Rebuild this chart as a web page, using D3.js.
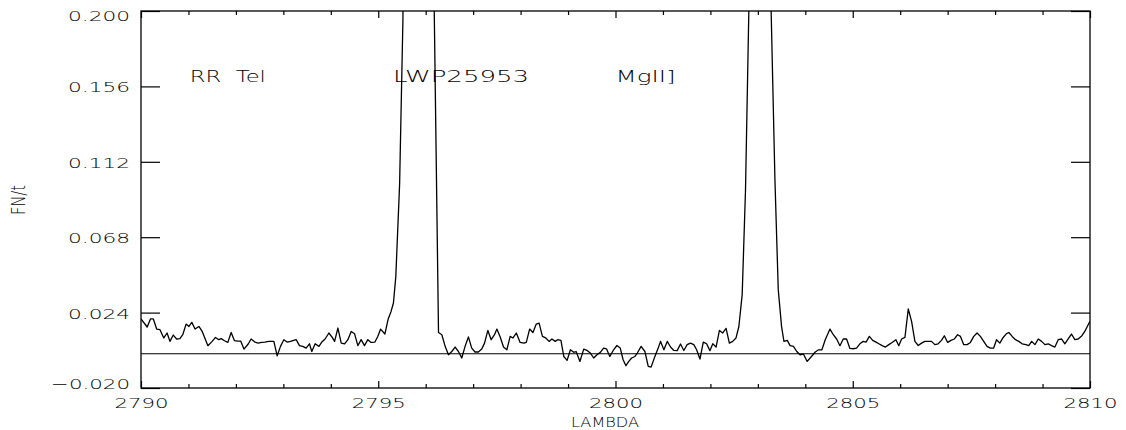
<!DOCTYPE html>
<html lang="en">
<head>
  <meta charset="UTF-8">
  <title>RR Tel LWP25953 MgII]</title>
  <script src="https://cdn.jsdelivr.net/npm/d3@7"></script>
  <style>
    body {
      margin: 0;
      padding: 0;
      background: #fff;
    }
    svg text {
      font-family: 'DejaVu Sans', sans-serif;
      font-weight: 300;
      fill: #000;
    }
    svg text.note {
      white-space: pre;
    }
    .axis path.domain {
      display: none;
    }
    .axis line {
      stroke: #000;
      stroke-width: 1.2;
    }
  </style>
</head>
<body>
  <svg id="chart" width="1126" height="430"></svg>

  <script>
    // spectrum (wavelength in A, flux FN/t)
    var lambda = [
      2790.00, 2790.13, 2790.20, 2790.26, 2790.33, 2790.40, 2790.48, 2790.55, 2790.61, 2790.68,
      2790.75, 2790.82, 2790.88, 2790.95, 2791.01, 2791.07, 2791.14, 2791.22, 2791.29, 2791.41,
      2791.50, 2791.57, 2791.64, 2791.69, 2791.76, 2791.83, 2791.90, 2791.97, 2792.04, 2792.10,
      2792.17, 2792.26, 2792.32, 2792.40, 2792.47, 2792.54, 2792.61, 2792.69, 2792.80, 2792.87,
      2792.94, 2793.01, 2793.08, 2793.15, 2793.27, 2793.34, 2793.41, 2793.48, 2793.55, 2793.60,
      2793.67, 2793.75, 2793.81, 2793.88, 2793.96, 2794.03, 2794.08, 2794.15, 2794.22, 2794.29,
      2794.36, 2794.43, 2794.50, 2794.57, 2794.64, 2794.71, 2794.78, 2794.85, 2794.93, 2794.99,
      2795.05, 2795.14, 2795.21, 2795.27, 2795.32, 2795.37, 2795.45, 2795.52, 2795.59, 2795.66,
      2795.73, 2795.81, 2795.88, 2795.95, 2796.02, 2796.10, 2796.18, 2796.27, 2796.34, 2796.41,
      2796.48, 2796.55, 2796.62, 2796.69, 2796.76, 2796.83, 2796.90, 2796.97, 2797.04, 2797.11,
      2797.18, 2797.24, 2797.31, 2797.38, 2797.45, 2797.50, 2797.57, 2797.64, 2797.71, 2797.78,
      2797.84, 2797.91, 2797.99, 2798.07, 2798.12, 2798.19, 2798.26, 2798.33, 2798.39, 2798.46,
      2798.53, 2798.60, 2798.66, 2798.73, 2798.78, 2798.85, 2798.91, 2798.98, 2799.05, 2799.12,
      2799.17, 2799.25, 2799.33, 2799.40, 2799.47, 2799.54, 2799.61, 2799.68, 2799.75, 2799.81,
      2799.88, 2799.96, 2800.03, 2800.10, 2800.16, 2800.22, 2800.28, 2800.34, 2800.41, 2800.46,
      2800.54, 2800.62, 2800.69, 2800.75, 2800.83, 2800.90, 2800.95, 2801.02, 2801.09, 2801.16,
      2801.23, 2801.30, 2801.37, 2801.44, 2801.51, 2801.58, 2801.65, 2801.71, 2801.78, 2801.85,
      2801.92, 2801.99, 2802.05, 2802.12, 2802.19, 2802.26, 2802.33, 2802.40, 2802.47, 2802.54,
      2802.60, 2802.67, 2802.74, 2802.81, 2802.88, 2802.95, 2803.02, 2803.09, 2803.16, 2803.22,
      2803.28, 2803.36, 2803.43, 2803.50, 2803.55, 2803.62, 2803.68, 2803.75, 2803.82, 2803.89,
      2803.96, 2804.04, 2804.13, 2804.21, 2804.28, 2804.35, 2804.42, 2804.52, 2804.59, 2804.66,
      2804.73, 2804.80, 2804.87, 2804.94, 2805.01, 2805.08, 2805.15, 2805.22, 2805.28, 2805.35,
      2805.42, 2805.50, 2805.55, 2805.62, 2805.69, 2805.76, 2805.83, 2805.91, 2805.97, 2806.03,
      2806.10, 2806.17, 2806.24, 2806.31, 2806.38, 2806.45, 2806.52, 2806.59, 2806.66, 2806.73,
      2806.80, 2806.87, 2806.93, 2807.00, 2807.07, 2807.14, 2807.21, 2807.27, 2807.34, 2807.41,
      2807.48, 2807.55, 2807.62, 2807.69, 2807.76, 2807.83, 2807.90, 2807.97, 2808.03, 2808.10,
      2808.17, 2808.24, 2808.29, 2808.36, 2808.43, 2808.50, 2808.57, 2808.65, 2808.71, 2808.77,
      2808.84, 2808.91, 2808.98, 2809.05, 2809.12, 2809.19, 2809.26, 2809.33, 2809.40, 2809.47,
      2809.54, 2809.61, 2809.68, 2809.75, 2809.83, 2809.89, 2809.98, 2810.00
    ];

    var flux = [
      0.0203, 0.0156, 0.0203, 0.0203, 0.0144, 0.0140, 0.0092, 0.0121, 0.0072, 0.0109,
      0.0086, 0.0088, 0.0111, 0.0173, 0.0159, 0.0183, 0.0144, 0.0159, 0.0130, 0.0047,
      0.0072, 0.0095, 0.0082, 0.0088, 0.0076, 0.0066, 0.0124, 0.0076, 0.0074, 0.0074,
      0.0027, 0.0057, 0.0086, 0.0068, 0.0062, 0.0066, 0.0068, 0.0072, 0.0072, -0.0012,
      0.0043, 0.0082, 0.0068, 0.0072, 0.0082, 0.0047, 0.0043, 0.0033, 0.0058, 0.0013,
      0.0058, 0.0043, 0.0068, 0.0086, 0.0121, 0.0095, 0.0072, 0.0150, 0.0062, 0.0057,
      0.0082, 0.0130, 0.0117, 0.0047, 0.0082, 0.0047, 0.0082, 0.0066, 0.0068, 0.0101,
      0.0144, 0.0115, 0.0203, 0.0247, 0.0296, 0.0450, 0.0987, 0.195, 0.45, 0.80,
      1.10, 1.25, 1.20, 1.00, 0.70, 0.40, 0.20, 0.0124, 0.0111, 0.0043,
      -0.0006, 0.0013, 0.0039, 0.0013, -0.0025, 0.0043, 0.0098, 0.0033, 0.0010, 0.0010,
      0.0027, 0.0062, 0.0136, 0.0082, 0.0111, 0.0144, 0.0098, 0.0039, 0.0023, 0.0101,
      0.0092, 0.0121, 0.0066, 0.0062, 0.0066, 0.0144, 0.0124, 0.0173, 0.0179, 0.0101,
      0.0092, 0.0072, 0.0086, 0.0072, 0.0082, 0.0078, -0.0016, -0.0039, 0.0023, 0.0008,
      0.0013, -0.0045, 0.0027, 0.0019, 0.0004, -0.0025, -0.0006, 0.0008, 0.0033, 0.0029,
      -0.0016, 0.0023, 0.0048, 0.0033, -0.0035, -0.0070, -0.0045, -0.0025, -0.0016, 0.0004,
      0.0043, 0.0013, -0.0074, -0.0078, -0.0016, 0.0033, 0.0072, 0.0023, 0.0072, 0.0039,
      0.0019, 0.0018, 0.0057, 0.0019, 0.0053, 0.0062, 0.0053, 0.0023, -0.0031, 0.0068,
      0.0058, 0.0018, 0.0058, 0.0039, 0.0136, 0.0121, 0.0148, 0.0062, 0.0072, 0.0092,
      0.0159, 0.0345, 0.0957, 0.20, 0.40, 0.60, 0.70, 0.65, 0.50, 0.32,
      0.20, 0.1016, 0.0374, 0.0158, 0.0072, 0.0078, 0.0047, 0.0043, 0.0013, -0.0006,
      -0.0002, -0.0045, -0.0016, 0.0010, 0.0023, 0.0023, 0.0082, 0.0144, 0.0111, 0.0086,
      0.0047, 0.0086, 0.0086, 0.0031, 0.0029, 0.0033, 0.0058, 0.0072, 0.0068, 0.0101,
      0.0078, 0.0066, 0.0058, 0.0047, 0.0039, 0.0053, 0.0066, 0.0082, 0.0047, 0.0086,
      0.0095, 0.0261, 0.0189, 0.0072, 0.0048, 0.0062, 0.0072, 0.0072, 0.0072, 0.0053,
      0.0058, 0.0078, 0.0105, 0.0066, 0.0078, 0.0086, 0.0111, 0.0101, 0.0053, 0.0053,
      0.0066, 0.0101, 0.0121, 0.0101, 0.0072, 0.0043, 0.0033, 0.0033, 0.0082, 0.0062,
      0.0095, 0.0117, 0.0124, 0.0101, 0.0082, 0.0072, 0.0058, 0.0053, 0.0047, 0.0072,
      0.0053, 0.0086, 0.0072, 0.0053, 0.0058, 0.0047, 0.0039, 0.0082, 0.0086, 0.0058,
      0.0086, 0.0115, 0.0082, 0.0086, 0.0105, 0.0130, 0.0179, 0.0189
    ];

    var xMajorTicks = [2790, 2795, 2800, 2805, 2810];
    var xMinorTicks = [2791, 2792, 2793, 2794, 2796, 2797, 2798, 2799,
                       2801, 2802, 2803, 2804, 2806, 2807, 2808, 2809];
    var yTicks = [0.200, 0.156, 0.112, 0.068, 0.024, -0.020];
    var yTickLabels = ['0.200', '0.156', '0.112', '0.068', '0.024', '\u22120.020'];
    var notes = ['RR  Tel', 'LWP25953', 'MgII]'];
    var noteLambda = [2791.03, 2795.31, 2800.0];

    var plotLeft = 141, plotRight = 1090, plotTop = 11, plotBottom = 388;

    var svg = d3.select('#chart');

    var x = d3.scaleLinear().domain([2790, 2810]).range([plotLeft, plotRight]);
    var y = d3.scaleLinear().domain([-0.020, 0.200]).range([plotBottom, plotTop]);

    svg.append('defs').append('clipPath')
      .attr('id', 'plotClip')
      .append('rect')
      .attr('x', plotLeft).attr('y', plotTop)
      .attr('width', plotRight - plotLeft).attr('height', plotBottom - plotTop);

    // zero level
    svg.append('line')
      .attr('x1', plotLeft).attr('x2', plotRight)
      .attr('y1', y(0)).attr('y2', y(0))
      .attr('stroke', '#000')
      .attr('stroke-width', 1.1);

    var points = lambda.map(function(l, i) { return [l, flux[i]]; });

    var line = d3.line()
      .x(function(d) { return x(d[0]); })
      .y(function(d) { return y(d[1]); });

    svg.append('path')
      .datum(points)
      .attr('clip-path', 'url(#plotClip)')
      .attr('fill', 'none')
      .attr('stroke', '#000')
      .attr('stroke-width', 1.3)
      .attr('stroke-linejoin', 'round')
      .attr('d', line);

    // frame
    svg.append('rect')
      .attr('x', plotLeft).attr('y', plotTop)
      .attr('width', plotRight - plotLeft).attr('height', plotBottom - plotTop)
      .attr('fill', 'none')
      .attr('stroke', '#000')
      .attr('stroke-width', 1.3);

    // bottom axis
    var xAxis = svg.append('g')
      .attr('class', 'axis')
      .attr('transform', 'translate(0,' + plotBottom + ')')
      .call(d3.axisBottom(x).tickValues(xMajorTicks).tickSize(-7).tickFormat(d3.format('d')));
    xAxis.selectAll('text')
      .attr('y', 20)
      .attr('dy', null)
      .attr('font-size', 14)
      .attr('textLength', 54)
      .attr('lengthAdjust', 'spacingAndGlyphs');

    svg.append('g')
      .attr('class', 'axis')
      .attr('transform', 'translate(0,' + plotBottom + ')')
      .call(d3.axisBottom(x).tickValues(xMinorTicks).tickSize(-4).tickFormat(''));

    // top axis
    svg.append('g')
      .attr('class', 'axis')
      .attr('transform', 'translate(0,' + plotTop + ')')
      .call(d3.axisTop(x).tickValues(xMajorTicks).tickSize(-7).tickFormat(''));
    svg.append('g')
      .attr('class', 'axis')
      .attr('transform', 'translate(0,' + plotTop + ')')
      .call(d3.axisTop(x).tickValues(xMinorTicks).tickSize(-4).tickFormat(''));

    // left axis
    var yAxis = svg.append('g')
      .attr('class', 'axis')
      .attr('transform', 'translate(' + plotLeft + ',0)')
      .call(d3.axisLeft(y).tickValues(yTicks).tickSize(-19)
        .tickFormat(function(d, i) { return yTickLabels[i]; }));
    yAxis.selectAll('text')
      .attr('x', -11)
      .attr('dy', null)
      .attr('font-size', 14)
      .attr('textLength', function(d, i) { return yTickLabels[i].length > 5 ? 79 : 62; })
      .attr('lengthAdjust', 'spacingAndGlyphs')
      .attr('y', function(d) {
        var ty = y(d);
        var base = ty + 5.5;
        if (base - 10 < plotTop) base = plotTop + 9.5;
        if (base > plotBottom) base = plotBottom;
        return base - ty;
      });

    // right axis
    svg.append('g')
      .attr('class', 'axis')
      .attr('transform', 'translate(' + plotRight + ',0)')
      .call(d3.axisRight(y).tickValues(yTicks).tickSize(-19).tickFormat(''));

    // annotations
    var noteWidths = [76, 136, 60];
    svg.selectAll('text.note')
      .data(notes).enter().append('text')
      .attr('class', 'note')
      .attr('x', function(d, i) { return x(noteLambda[i]); })
      .attr('y', 82)
      .attr('font-size', 16)
      .attr('textLength', function(d, i) { return noteWidths[i]; })
      .attr('lengthAdjust', 'spacingAndGlyphs')
      .text(function(d) { return d; });

    // axis titles
    svg.append('text')
      .attr('x', 605)
      .attr('y', 427)
      .attr('text-anchor', 'middle')
      .attr('font-size', 14)
      .attr('textLength', 68)
      .attr('lengthAdjust', 'spacingAndGlyphs')
      .text('LAMBDA');

    svg.append('text')
      .attr('transform', 'translate(25,200)rotate(-90)')
      .attr('text-anchor', 'middle')
      .attr('font-size', 20)
      .attr('textLength', 30)
      .attr('lengthAdjust', 'spacingAndGlyphs')
      .text('FN/t');
  </script>
</body>
</html>
